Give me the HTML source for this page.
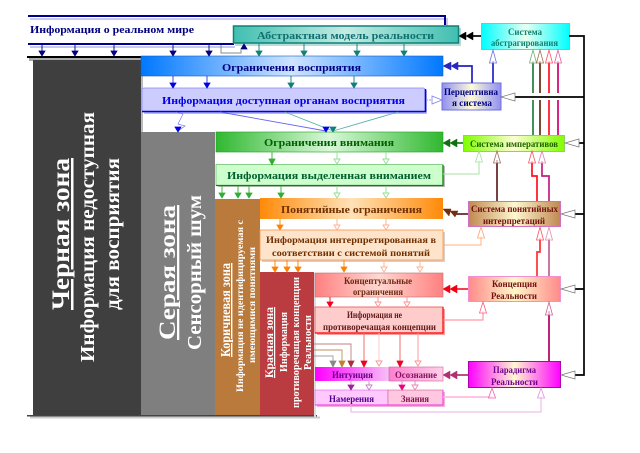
<!DOCTYPE html>
<html><head><meta charset="utf-8">
<style>
html,body{margin:0;padding:0;background:#fff}
svg{display:block;filter:blur(.3px)}
text{font-family:"Liberation Serif","DejaVu Serif",serif;font-weight:bold}
</style></head><body>
<svg xmlns="http://www.w3.org/2000/svg" width="640" height="453" viewBox="0 0 640 453">
<defs>
<linearGradient id="gBlue"><stop offset="0" stop-color="#0078ff"/><stop offset=".5" stop-color="#cfe4ff"/><stop offset="1" stop-color="#0078ff"/></linearGradient>
<linearGradient id="gTeal"><stop offset="0" stop-color="#40bfb0"/><stop offset=".5" stop-color="#c4ebe4"/><stop offset="1" stop-color="#40bfb0"/></linearGradient>
<linearGradient id="gGreen"><stop offset="0" stop-color="#30b830"/><stop offset=".5" stop-color="#d8f8d8"/><stop offset="1" stop-color="#30b830"/></linearGradient>
<linearGradient id="gOrange"><stop offset="0" stop-color="#ff8a08"/><stop offset=".5" stop-color="#ffe2b8"/><stop offset="1" stop-color="#ff8a08"/></linearGradient>
<linearGradient id="gRed"><stop offset="0" stop-color="#ff8080"/><stop offset=".5" stop-color="#ffd8d0"/><stop offset="1" stop-color="#ff8080"/></linearGradient>
<linearGradient id="gMag"><stop offset="0" stop-color="#ff00ff"/><stop offset="1" stop-color="#f6c0f6"/></linearGradient>
<linearGradient id="gPink"><stop offset="0" stop-color="#ff80d0"/><stop offset="1" stop-color="#ffd0e8"/></linearGradient>
<linearGradient id="sCyan"><stop offset="0" stop-color="#00ffff"/><stop offset=".5" stop-color="#e8fff0"/><stop offset="1" stop-color="#00ffff"/></linearGradient>
<linearGradient id="sPer"><stop offset="0" stop-color="#9090f0"/><stop offset=".5" stop-color="#fffbd8"/><stop offset="1" stop-color="#9090f0"/></linearGradient>
<linearGradient id="sLime"><stop offset="0" stop-color="#80ff00"/><stop offset=".5" stop-color="#fcffd0"/><stop offset="1" stop-color="#80ff00"/></linearGradient>
<linearGradient id="sBrown"><stop offset="0" stop-color="#c08850"/><stop offset=".5" stop-color="#fff8d0"/><stop offset="1" stop-color="#c08850"/></linearGradient>
<linearGradient id="sRed"><stop offset="0" stop-color="#ff8a8a"/><stop offset=".5" stop-color="#fff8c8"/><stop offset="1" stop-color="#ff8a8a"/></linearGradient>
<linearGradient id="sMag"><stop offset="0" stop-color="#ff00ff"/><stop offset=".5" stop-color="#fff8d0"/><stop offset="1" stop-color="#ff00ff"/></linearGradient>
</defs>

<!-- top band -->
<path d="M30 19H447V27" fill="none" stroke="#c8c8f0" stroke-width="2"/>
<path d="M30 47H235" fill="none" stroke="#c8c8f0" stroke-width="2"/>
<path d="M28 16H445V25" fill="none" stroke="#000090" stroke-width="2"/>
<path d="M28 44H234" fill="none" stroke="#000090" stroke-width="2"/>
<text x="30" y="33" font-size="11" fill="#000080" textLength="164" lengthAdjust="spacingAndGlyphs">Информация о реальном мире</text>

<!-- zones -->
<rect x="27" y="56" width="114" height="2" fill="#000"/>
<rect x="29" y="58" width="112" height="3" fill="#aaa"/>
<rect x="33" y="60" width="108" height="355" fill="#3f3f3f"/>
<rect x="141" y="132" width="74" height="283" fill="#7f7f7f"/>
<rect x="141" y="76" width="2" height="56" fill="#bbb"/>
<rect x="215" y="199" width="45" height="216" fill="#b97a3c"/>
<rect x="260" y="272" width="54" height="143" fill="#bb3c40"/>
<rect x="27" y="415" width="290" height="1.5" fill="#444"/>
<rect x="30" y="416.500" width="290" height="2" fill="#ccc"/>
<rect x="314" y="273" width="2" height="144" fill="#ddd"/>

<!-- main boxes -->
<rect x="141" y="56" width="302" height="20" fill="url(#gBlue)" stroke="#1060c0" stroke-width=".6"/>
<rect x="144" y="90" width="283" height="24" rx="1" fill="#b8b8e8"/>
<rect x="142" y="88" width="283" height="24" rx="2" fill="#ccccff" stroke="#8888ff" stroke-width=".8"/>
<path d="M142 111.500H425.500V89" fill="none" stroke="#0000e0" stroke-width="1.500"/>

<rect x="235" y="28" width="226" height="18" fill="#b8dcd8"/>
<rect x="233.500" y="26" width="225" height="17" fill="url(#gTeal)" stroke="#108078" stroke-width="1.500"/>

<rect x="216" y="132" width="227" height="20" fill="url(#gGreen)" stroke="#20a020" stroke-width=".6"/>
<rect x="218" y="166" width="227" height="21" fill="#bbb"/>
<rect x="216" y="164.500" width="227" height="21" fill="#ccffcc" stroke="#70c070" stroke-width=".8"/>
<path d="M216 185.500H443V165" fill="none" stroke="#108010" stroke-width="1.300"/>

<rect x="260" y="198" width="183" height="21" fill="url(#gOrange)"/>
<rect x="262" y="232" width="183" height="30" fill="#d8d0c8"/>
<rect x="260" y="230" width="183" height="30" fill="#ffe4cc" stroke="#ff9040" stroke-width=".8"/>
<rect x="315" y="273" width="128" height="24" fill="url(#gRed)" stroke="#c07070" stroke-width=".6"/>
<rect x="317" y="309" width="128" height="26" fill="#f8a0a0"/>
<rect x="315" y="307" width="128" height="26" fill="#ffcccc" stroke="#f05050" stroke-width=".8"/>
<path d="M315 333H443V307" fill="none" stroke="#ff0000" stroke-width="1.200"/>

<rect x="315" y="367" width="74" height="14" fill="url(#gMag)"/>
<rect x="389" y="367" width="54" height="14" fill="url(#gPink)" stroke="#d060a0" stroke-width=".6"/>
<rect x="317" y="392" width="128" height="15" fill="#f0b0d8"/>
<rect x="315" y="390" width="73" height="15" fill="#ffc8ff" stroke="#e060e0" stroke-width=".6"/>
<rect x="388" y="390" width="55" height="15" fill="#ffc8e0" stroke="#d06090" stroke-width=".6"/>
<path d="M315 405H443V390" fill="none" stroke="#ee30e0" stroke-width="1"/>

<!-- system boxes -->
<rect x="481.500" y="23.500" width="88" height="26" fill="url(#sCyan)" stroke="#80c0c0"/>
<rect x="442" y="83" width="59" height="27" fill="url(#sPer)" stroke="#7070e0"/>
<rect x="463.500" y="135.500" width="101" height="16" fill="url(#sLime)" stroke="#90d060"/>
<rect x="468.500" y="201.500" width="92" height="25" fill="url(#sBrown)" stroke="#d070c0"/>
<rect x="468.500" y="276.500" width="92" height="25" fill="url(#sRed)" stroke="#f090d0"/>
<rect x="468.500" y="361.500" width="92" height="26" fill="url(#sMag)" stroke="#b000b0"/>

<!-- black right bus -->
<path d="M569 36H584V375H575M584 97H515M584 143H579M584 214H575M584 289H575" fill="none" stroke="#000" stroke-width="1.700"/>
<g fill="#fff" stroke="#777" stroke-width=".7">
<polygon points="501,97 515,93 515,101"/>
<polygon points="565,143 579,139 579,147"/>
<polygon points="561,214 575,210 575,218"/>
<polygon points="561,289 575,285 575,293"/>
<polygon points="561,375 575,371 575,379"/>
</g>

<!-- vertical colored lines -->
<g fill="none" stroke-width="1.700">
<path d="M533 61V93M533 100V135" stroke="#208040"/>
<path d="M540 61V93M540 100V135" stroke="#603010"/>
<path d="M549 61V93M549 100V135" stroke="#ff1020"/>
<path d="M558 61V93M558 100V135" stroke="#d00070"/>
<path d="M497 201V160" stroke="#602020"/>
<path d="M537 201V176H532V161" stroke="#ff1020"/>
<path d="M549 201V176H542V161" stroke="#c02080"/>
<path d="M537 276V252H540V238" stroke="#ff3030"/>
<path d="M549 276V238" stroke="#c06090"/>
<path d="M549 361V311" stroke="#b00060"/>
<path d="M493 83V61" stroke="#2020d0"/>
<path d="M472 83V66H455" stroke="#2020c0"/>
<path d="M481 36H470" stroke="#000"/>
<path d="M463 143H452" stroke="#108010"/>
<path d="M468 214H455" stroke="#602020"/>
<path d="M468 289H452" stroke="#f02030"/>
<path d="M468 375H452" stroke="#b03070"/>
</g>
<g fill="none" stroke-width="1">
<path d="M443 174H479V160" stroke="#a8e0a8"/>
<path d="M443 245H481V236" stroke="#ffb080"/>
<path d="M443 320H483V311" stroke="#ff8090"/>
<path d="M443 397H492V396" stroke="#ffb0e0" stroke-width="1.500"/>
<path d="M351 405V412H541V396" stroke="#e8b0e8"/>
<path d="M426 100H432" stroke="#9090f0" stroke-dasharray="2 1"/>
<path d="M221 45V53H241V50" stroke="#888"/>
</g>

<!-- hollow up heads -->
<g fill="#fff" fill-opacity=".7" stroke-width=".8">
<polygon points="533,50 529.500,63 536.500,63" stroke="#70b070"/>
<polygon points="540,50 536.500,63 543.500,63" stroke="#a07050"/>
<polygon points="549,50 545.500,63 552.500,63" stroke="#ff5060"/>
<polygon points="558,50 554.500,63 561.500,63" stroke="#e060a0"/>
<polygon points="493,50 489.500,63 496.500,63" stroke="#7070e0"/>
<polygon points="479,151 475.500,162 482.500,162" stroke="#a0e0a0"/>
<polygon points="497,151 493.500,163 500.500,163" stroke="#a07060"/>
<polygon points="532,151 528.500,163 535.500,163" stroke="#ff5060"/>
<polygon points="542,151 538.500,163 545.500,163" stroke="#e080b0"/>
<polygon points="481,227 477.500,238 484.500,238" stroke="#ffa070"/>
<polygon points="540,227 536.500,240 543.500,240" stroke="#ff5060"/>
<polygon points="549,227 545.500,240 552.500,240" stroke="#e090b0"/>
<polygon points="483,302 479.500,313 486.500,313" stroke="#ff6080"/>
<polygon points="549,302 545.500,315 552.500,315" stroke="#d06090"/>
<polygon points="492,388 488.500,398 495.500,398" stroke="#f060b0"/>
<polygon points="541,388 537.500,398 544.500,398" stroke="#e090e0"/>
<polygon points="442,100 432,96 432,104" stroke="#8080f0"/>
</g>

<!-- filled double heads -->
<g fill="#000" stroke="#000" stroke-width=".5"><polygon points="459,36 466,32 466,40"/><polygon points="466,36 473,32 473,40"/></g>
<g fill="#2828c0" stroke="#2828c0" stroke-width=".5"><polygon points="443,66 451,62 451,70"/><polygon points="451,66 458,62 458,70"/></g>
<g fill="#107010" stroke="#107010" stroke-width=".5"><polygon points="443,143 450,139 450,147"/><polygon points="450,143 457,139 457,147"/></g>
<g fill="#703010" stroke="#703010" stroke-width=".5"><polygon points="443,209 451,209 449,216"/><polygon points="450,211 458,211 455,217"/></g>
<g fill="#f00010" stroke="#f00010" stroke-width=".5"><polygon points="443,289 450,285 450,293"/><polygon points="450,289 457,285 457,293"/></g>
<g fill="#b03070" stroke="#b03070" stroke-width=".5"><polygon points="443,375 450,371 450,379"/><polygon points="450,375 457,371 457,379"/></g>

<!-- small down arrows -->
<g stroke-width=".9" fill="none">
<path d="M42 45V51M75 45V51M114 45V51M173 45V51M209 45V51" stroke="#000080"/>
<path d="M259 44V51M304 44V51M357 44V51M404 44V51" stroke="#108078"/>
<path d="M173 76V83M207 76V83" stroke="#3030e0"/>
<path d="M291 76V83M354 76V83" stroke="#108078"/>
<path d="M272 152V160" stroke="#30b030"/>
<path d="M337 152V160M386 152V160" stroke="#90e090"/>
<path d="M222 186V193M238 186V193M249 186V193M281 186V193" stroke="#30b030"/>
<path d="M337 186V193M386 186V193" stroke="#90e090"/>
<path d="M280 219V225" stroke="#ff8000"/>
<path d="M337 219V225M386 219V225" stroke="#ffb090"/>
<path d="M275 260V267M287 260V267M298 260V267M344 260V267" stroke="#ff8000"/>
<path d="M384 260V267M420 260V267" stroke="#ffb090"/>
<path d="M330 297V302" stroke="#f00020"/>
<path d="M378 297V302M407 297V302" stroke="#ff9090"/>
<path d="M364 333V361M400 333V361" stroke="#f06060"/>
<path d="M379 333V361" stroke="#ffc8c8"/>
<path d="M418 333V361" stroke="#ff9090"/>
<path d="M314 356H333V361" stroke="#a0a0a0"/>
<path d="M314 350H342V361" stroke="#c09060"/>
<path d="M314 344H351V361" stroke="#c08080"/>
<path d="M351 381V385M402 381V385M369 381V385M415 381V385" stroke="#c090c0"/>
<path d="M176 112L183 114L178 124L185 126L178 131" stroke="#6060f0" stroke-width=".6"/>
<path d="M220 112L326 131" stroke="#6060f0"/>
<path d="M285 112L333 131" stroke="#60b0b0"/>
<path d="M398 112L333 131" stroke="#60b0b0"/>
</g>
<g fill="#000080" stroke="#000080" stroke-width=".8">
<polygon points="39,51 45,51 42,56"/><polygon points="72,51 78,51 75,56"/><polygon points="111,51 117,51 114,56"/><polygon points="170,51 176,51 173,56"/><polygon points="206,51 212,51 209,56"/>
<polygon points="241,49 247,49 244,44"/>
</g>
<g fill="#108078" stroke="#108078" stroke-width=".8">
<polygon points="256,51 262,51 259,56"/><polygon points="301,51 307,51 304,56"/><polygon points="354,51 360,51 357,56"/><polygon points="401,51 407,51 404,56"/>
<polygon points="288,83 294,83 291,88"/><polygon points="351,83 357,83 354,88"/>
<polygon points="330,127 336,127 333,132"/>
</g>
<g fill="#0000e8" stroke="#0000e8" stroke-width=".8">
<polygon points="170,83 176,83 173,88"/><polygon points="204,83 210,83 207,88"/>
<polygon points="175,127 181,127 178,132"/>
<polygon points="323,127 329,127 326,132"/>
</g>
<g fill="#30b030" stroke="#30b030" stroke-width=".8">
<polygon points="269,159 275,159 272,165"/>
<polygon points="219,193 225,193 222,198"/><polygon points="235,193 241,193 238,198"/><polygon points="246,193 252,193 249,198"/><polygon points="278,193 284,193 281,198"/>
</g>
<g fill="#fff" stroke="#90e090" stroke-width=".9">
<polygon points="334,159 340,159 337,164"/><polygon points="383,159 389,159 386,164"/>
<polygon points="334,193 340,193 337,198"/><polygon points="383,193 389,193 386,198"/>
</g>
<g fill="#ff8000" stroke="#ff8000" stroke-width=".8">
<polygon points="277,225 283,225 280,230"/>
<polygon points="272,267 278,267 275,272"/><polygon points="284,267 290,267 287,272"/><polygon points="295,267 301,267 298,272"/><polygon points="341,267 347,267 344,272"/>
</g>
<g fill="#fff" stroke="#ffb090" stroke-width=".9">
<polygon points="334,225 340,225 337,230"/><polygon points="383,225 389,225 386,230"/>
<polygon points="381,267 387,267 384,272"/><polygon points="417,267 423,267 420,272"/>
</g>
<polygon points="327,302 333,302 330,307" fill="#f00020" stroke="#f00020" stroke-width=".8"/>
<g fill="#fff" stroke="#ff9090" stroke-width=".9">
<polygon points="375,302 381,302 378,307"/><polygon points="404,302 410,302 407,307"/>
<polygon points="376,361 382,361 379,366"/><polygon points="415,361 421,361 418,366"/>
</g>
<polygon points="361,361 367,361 364,367" fill="#f00020" stroke="#f00020" stroke-width=".8"/>
<polygon points="397,361 403,361 400,367" fill="#f00020" stroke="#f00020" stroke-width=".8"/>
<polygon points="330,361 336,361 333,367" fill="#888" stroke="#888" stroke-width=".8"/>
<polygon points="339,361 345,361 342,367" fill="#c08030" stroke="#c08030" stroke-width=".8"/>
<polygon points="348,361 354,361 351,367" fill="#a83040" stroke="#a83040" stroke-width=".8"/>
<polygon points="348,385 354,385 351,390" fill="#a020a0" stroke="#a020a0" stroke-width=".8"/>
<polygon points="399,385 405,385 402,390" fill="#f00080" stroke="#f00080" stroke-width=".8"/>
<polygon points="366,385 372,385 369,390" fill="#fff" stroke="#c080c0" stroke-width=".9"/>
<polygon points="412,385 418,385 415,390" fill="#fff" stroke="#f080b0" stroke-width=".9"/>

<!-- box labels -->
<g font-size="11" text-anchor="start">
<text x="257" y="39" fill="#107070" textLength="177" lengthAdjust="spacingAndGlyphs">Абстрактная модель реальности</text>
<text x="222" y="71" fill="#000080" textLength="139" lengthAdjust="spacingAndGlyphs">Ограничения восприятия</text>
<text x="162" y="104" fill="#0000e8" textLength="243" lengthAdjust="spacingAndGlyphs">Информация доступная органам восприятия</text>
<text x="264" y="146" fill="#006000" textLength="130" lengthAdjust="spacingAndGlyphs">Ограничения внимания</text>
<text x="227" y="179" fill="#006030" textLength="204" lengthAdjust="spacingAndGlyphs">Информация выделенная вниманием</text>
<text x="281" y="213" fill="#703000" textLength="141" lengthAdjust="spacingAndGlyphs">Понятийные ограничения</text>
</g>
<g font-size="9">
<text x="266" y="243" fill="#703000" textLength="170" lengthAdjust="spacingAndGlyphs">Информация интерпретированная в</text>
<text x="272" y="256" fill="#703000" textLength="158" lengthAdjust="spacingAndGlyphs">соответствии с системой понятий</text>
<text x="344" y="284" fill="#6a2a10" textLength="68" lengthAdjust="spacingAndGlyphs">Концептуальные</text>
<text x="353" y="295" fill="#6a2a10" textLength="50" lengthAdjust="spacingAndGlyphs">ограничения</text>
<text x="347" y="318" fill="#601818" textLength="55" lengthAdjust="spacingAndGlyphs">Информация не</text>
<text x="323" y="330" fill="#601818" textLength="113" lengthAdjust="spacingAndGlyphs">противоречащая концепции</text>
<text x="332" y="378" fill="#600080" textLength="41" lengthAdjust="spacingAndGlyphs">Интуиция</text>
<text x="395" y="378" fill="#801060" textLength="42" lengthAdjust="spacingAndGlyphs">Осознание</text>
<text x="329" y="402" fill="#500090" textLength="45" lengthAdjust="spacingAndGlyphs">Намерения</text>
<text x="401" y="402" fill="#801050" textLength="28" lengthAdjust="spacingAndGlyphs">Знания</text>
<text x="444" y="95" fill="#000080" textLength="54" lengthAdjust="spacingAndGlyphs">Перцептивна</text>
<text x="452" y="106" fill="#000080" textLength="40" lengthAdjust="spacingAndGlyphs">я система</text>
<text x="508" y="35" fill="#108070" textLength="34" lengthAdjust="spacingAndGlyphs">Система</text>
<text x="491" y="46" fill="#108070" textLength="67" lengthAdjust="spacingAndGlyphs">абстрагирования</text>
<text x="470" y="147" fill="#206000" textLength="88" lengthAdjust="spacingAndGlyphs">Система императивов</text>
<text x="471" y="212" fill="#701010" textLength="87" lengthAdjust="spacingAndGlyphs">Система понятийных</text>
<text x="483" y="224" fill="#701010" textLength="62" lengthAdjust="spacingAndGlyphs">интерпретаций</text>
<text x="492" y="287" fill="#701010" textLength="45" lengthAdjust="spacingAndGlyphs">Концепция</text>
<text x="491" y="299" fill="#701010" textLength="46" lengthAdjust="spacingAndGlyphs">Реальности</text>
<text x="493" y="373" fill="#700090" textLength="43" lengthAdjust="spacingAndGlyphs">Парадигма</text>
<text x="491" y="385" fill="#700090" textLength="47" lengthAdjust="spacingAndGlyphs">Реальности</text>
</g>

<!-- zone labels -->
<g fill="#fff">
<text transform="translate(69 310) rotate(-90)" font-size="25" text-decoration="underline" textLength="152" lengthAdjust="spacingAndGlyphs">Черная зона</text>
<text transform="translate(94 362) rotate(-90)" font-size="20" textLength="250" lengthAdjust="spacingAndGlyphs">Информация недоступная</text>
<text transform="translate(119 310) rotate(-90)" font-size="20" textLength="152" lengthAdjust="spacingAndGlyphs">для восприятия</text>
<text transform="translate(175 340) rotate(-90)" font-size="23" text-decoration="underline" textLength="135" lengthAdjust="spacingAndGlyphs">Серая зона</text>
<text transform="translate(201 350) rotate(-90)" font-size="20" textLength="155" lengthAdjust="spacingAndGlyphs">Сенсорный шум</text>
<text transform="translate(230 357) rotate(-90)" font-size="14" text-decoration="underline" textLength="94" lengthAdjust="spacingAndGlyphs">Коричневая зона</text>
<text transform="translate(243 392) rotate(-90)" font-size="9" textLength="172" lengthAdjust="spacingAndGlyphs">Информация не идентифицируемая с</text>
<text transform="translate(255 363) rotate(-90)" font-size="9" textLength="116" lengthAdjust="spacingAndGlyphs">имеющимися понятиями</text>
<text transform="translate(273 378) rotate(-90)" font-size="12" text-decoration="underline" textLength="71" lengthAdjust="spacingAndGlyphs">Красная зона</text>
<text transform="translate(287 372) rotate(-90)" font-size="10" textLength="60" lengthAdjust="spacingAndGlyphs">Информация</text>
<text transform="translate(299 408) rotate(-90)" font-size="10" textLength="131" lengthAdjust="spacingAndGlyphs">противоречащая концепции</text>
<text transform="translate(311 370) rotate(-90)" font-size="10" textLength="55" lengthAdjust="spacingAndGlyphs">Реальности</text>
</g>
</svg>
</body></html>
